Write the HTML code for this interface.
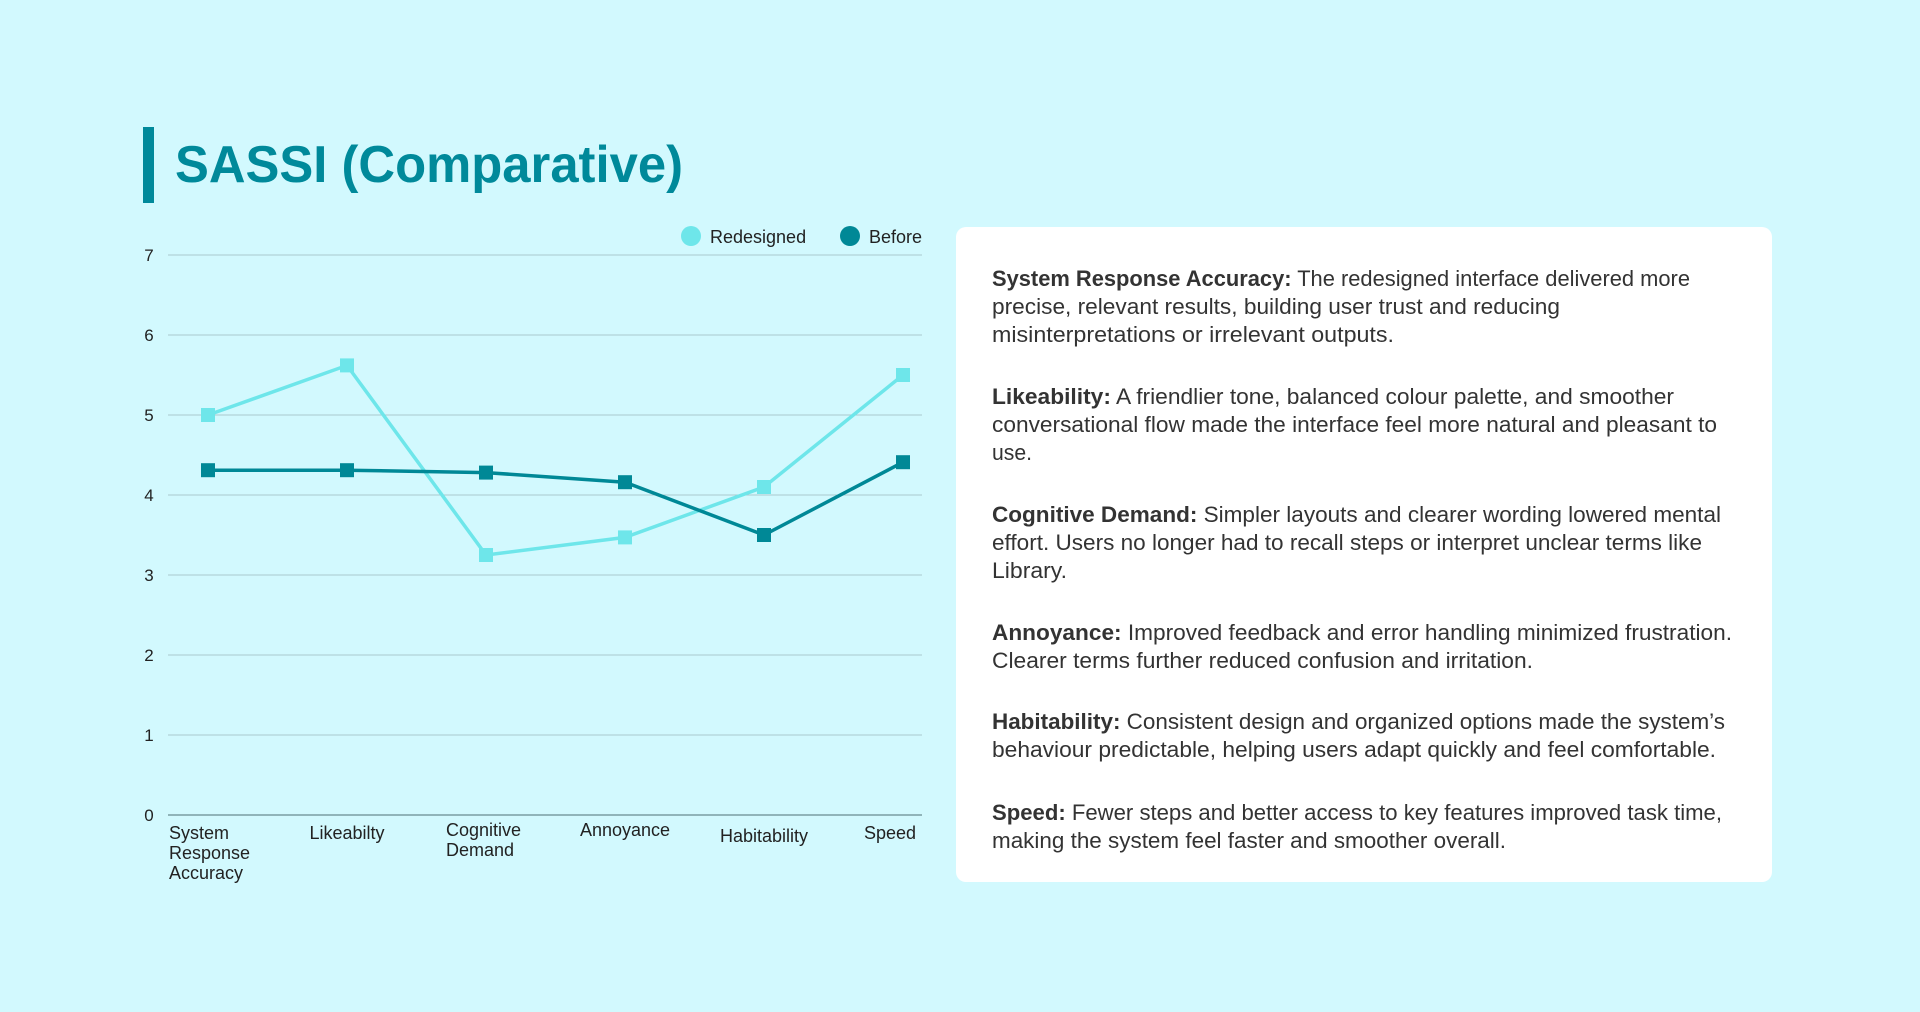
<!DOCTYPE html>
<html><head><meta charset="utf-8"><style>
html,body{margin:0;padding:0;background:#d2f9fe;}
body{width:1920px;height:1012px;overflow:hidden;position:relative;font-family:"Liberation Sans",sans-serif;}
svg{position:absolute;left:0;top:0;}
</style></head><body>
<svg width="1920" height="1012" viewBox="0 0 1920 1012">
  <rect x="143" y="127" width="11" height="76" fill="#00899a"/>
  <text x="175" y="182" font-size="52" font-weight="bold" fill="#00899a" textLength="508" lengthAdjust="spacingAndGlyphs">SASSI (Comparative)</text>

  <g>
    <g>
      <circle cx="691" cy="236" r="10" fill="#6ee6ea"/>
      <text x="710" y="243" font-size="18" fill="#222">Redesigned</text>
    </g>
    <g>
      <circle cx="850" cy="236" r="10" fill="#008896"/>
      <text x="869" y="243" font-size="18" fill="#222">Before</text>
    </g>
  </g>
  <g id="chart"></g>

  <rect x="956" y="227" width="816" height="655" rx="10" fill="#ffffff"/>
  <g font-size="22" fill="#333">
    <text x="992" y="286" textLength="698" lengthAdjust="spacingAndGlyphs"><tspan font-weight="bold">System Response Accuracy:</tspan> The redesigned interface delivered more</text>
    <text x="992" y="314" textLength="568" lengthAdjust="spacingAndGlyphs">precise, relevant results, building user trust and reducing</text>
    <text x="992" y="342" textLength="402" lengthAdjust="spacingAndGlyphs">misinterpretations or irrelevant outputs.</text>

    <text x="992" y="404" textLength="682" lengthAdjust="spacingAndGlyphs"><tspan font-weight="bold">Likeability:</tspan> A friendlier tone, balanced colour palette, and smoother</text>
    <text x="992" y="432" textLength="725" lengthAdjust="spacingAndGlyphs">conversational flow made the interface feel more natural and pleasant to</text>
    <text x="992" y="460" textLength="40" lengthAdjust="spacingAndGlyphs">use.</text>

    <text x="992" y="522" textLength="729" lengthAdjust="spacingAndGlyphs"><tspan font-weight="bold">Cognitive Demand:</tspan> Simpler layouts and clearer wording lowered mental</text>
    <text x="992" y="550" textLength="710" lengthAdjust="spacingAndGlyphs">effort. Users no longer had to recall steps or interpret unclear terms like</text>
    <text x="992" y="578" textLength="75" lengthAdjust="spacingAndGlyphs">Library.</text>

    <text x="992" y="640" textLength="740" lengthAdjust="spacingAndGlyphs"><tspan font-weight="bold">Annoyance:</tspan> Improved feedback and error handling minimized frustration.</text>
    <text x="992" y="668" textLength="541" lengthAdjust="spacingAndGlyphs">Clearer terms further reduced confusion and irritation.</text>

    <text x="992" y="729" textLength="733" lengthAdjust="spacingAndGlyphs"><tspan font-weight="bold">Habitability:</tspan> Consistent design and organized options made the system’s</text>
    <text x="992" y="757" textLength="724" lengthAdjust="spacingAndGlyphs">behaviour predictable, helping users adapt quickly and feel comfortable.</text>

    <text x="992" y="820" textLength="730" lengthAdjust="spacingAndGlyphs"><tspan font-weight="bold">Speed:</tspan> Fewer steps and better access to key features improved task time,</text>
    <text x="992" y="848" textLength="514" lengthAdjust="spacingAndGlyphs">making the system feel faster and smoother overall.</text>
  </g>
</svg>
<script>
const categories = [["System","Response","Accuracy"],["Likeabilty"],["Cognitive","Demand"],["Annoyance"],["Habitability"],["Speed"]];
const redesigned = [5.0, 5.62, 3.25, 3.47, 4.1, 5.5];
const before = [4.31, 4.31, 4.28, 4.16, 3.5, 4.41];
const yTicks = [0,1,2,3,4,5,6,7];

const NS = "http://www.w3.org/2000/svg";
const g = document.getElementById('chart');
const plotL = 168, plotR = 922, yTop = 255, yBot = 815, yMax = 7;
const firstX = 208, lastX = 903;
function xPos(i){ return firstX + i*(lastX-firstX)/(categories.length-1); }
function yPos(v){ return yBot - v*(yBot-yTop)/yMax; }
function mk(tag, attrs){ const e=document.createElementNS(NS,tag); for(const k in attrs) e.setAttribute(k,attrs[k]); g.appendChild(e); return e; }

yTicks.forEach(t=>{
  const ln = mk('line',{x1:plotL,x2:plotR,y1:yPos(t),y2:yPos(t),stroke:t===0?'#6a8a90':'#a9c9cf','stroke-width':t===0?1.3:1});
  
  
  const tx = mk('text',{x:149,y:yPos(t)+6,'font-size':17,fill:'#222','text-anchor':'middle'});
  tx.textContent = t;
  
  
});

const dy = [0,0,-3,-3,3,0];
categories.forEach((lines,i)=>{
  let anchor='middle', x=xPos(i);
  if(i===0){anchor='start'; x=169;}
  if(i===2){anchor='start'; x=446;}
  if(i===categories.length-1){anchor='end'; x=916;}
  const tx = mk('text',{x:x,y:839+dy[i],'font-size':18,fill:'#222','text-anchor':anchor});
  
  
  lines.forEach((l,j)=>{
    const ts=document.createElementNS(NS,'tspan');
    ts.setAttribute('x',x); ts.setAttribute('dy', j===0?0:20);
    ts.textContent=l; tx.appendChild(ts);
  });
});

function series(vals,color,name){
  const pl = mk('polyline',{points:vals.map((v,i)=>xPos(i)+','+yPos(v)).join(' '),fill:'none',stroke:color,'stroke-width':3.5});
  
  
  vals.forEach((v,i)=>{
    const r = mk('rect',{x:xPos(i)-7,y:yPos(v)-7,width:14,height:14,fill:color});
    
    
  });
}
series(redesigned,'#6ee6ea','redesigned');
series(before,'#008896','before');
</script>
</body></html>
